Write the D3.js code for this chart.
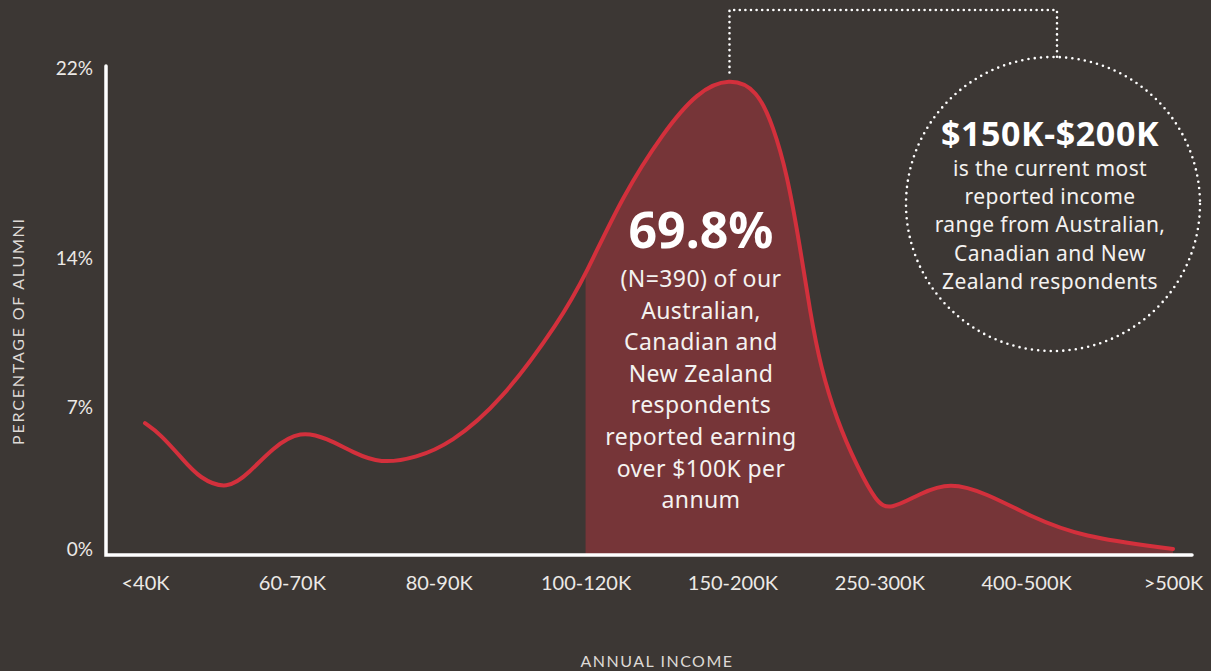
<!DOCTYPE html>
<html>
<head>
<meta charset="utf-8">
<script src="https://cdn.jsdelivr.net/npm/d3@7"></script>
<style>
  html, body { margin: 0; padding: 0; background: #3c3734; }
  #canvas { width: 1211px; height: 671px; }
</style>
</head>
<body>
<div id="canvas"></div>
<script>
// income bands along the x axis
const categories = ["<40K", "60-70K", "80-90K", "100-120K", "150-200K", "250-300K", "400-500K", ">500K"];
// y tick labels (percent)
const yTicks = [0, 7, 14, 22];
// smooth curve: position along the bands (0 = <40K) and percent of alumni
const curvePos = [0, 0.10, 0.26, 0.37, 0.56, 0.71, 0.87, 1.06, 1.24, 1.42, 1.60, 1.85, 2.08, 2.42, 2.83,
                  3.0, 3.25, 3.53, 3.76, 3.98, 4.17, 4.28, 4.37, 4.46, 4.53, 4.60, 4.71, 4.85, 4.98,
                  5.07, 5.28, 5.48, 5.73, 6.03, 6.37, 7.0];
const curveVal = [6.2, 5.7, 4.4, 3.5, 2.9, 3.75, 5.0, 5.85, 5.45, 4.75, 4.2, 4.5, 5.2, 7.2, 11.1,
                  13.2, 16.6, 19.3, 21.0, 21.6, 21.1, 19.5, 17.6, 14.5, 11.4, 8.9, 6.35, 4.05, 2.3,
                  1.9, 2.75, 3.3, 2.75, 1.6, 0.6, 0.0];
const shadeFrom = 3; // shaded from the 100-120K band onwards

const mainNote = ["(N=390) of our", "Australian,", "Canadian and", "New Zealand",
                  "respondents", "reported earning", "over $100K per", "annum"];
const circleNote = ["is the current most", "reported income", "range from Australian,",
                    "Canadian and New", "Zealand respondents"];

const W = 1211, H = 671;
const baseY = 555, axisX = 106;
const font = "'Noto Sans', 'Open Sans', sans-serif";
const tickFont = "Lato, 'Open Sans', sans-serif";

const svg = d3.select("#canvas").append("svg")
    .attr("width", W)
    .attr("height", H);

svg.append("rect")
    .attr("width", W)
    .attr("height", H)
    .attr("fill", "#3c3734");

const x = d3.scalePoint().domain(categories).range([145, 1173]);
const xPos = d3.scaleLinear().domain([0, categories.length - 1]).range([145, 1173]);
const y = d3.scaleLinear().domain(yTicks).range([549, 407, 258, 68]);

const pts = curvePos.map((p, i) => ({ p: p, v: curveVal[i] }));

// shaded area (same spline as the line, clipped at the 100-120K band)
const line = d3.line()
    .x(d => xPos(d.p))
    .y(d => y(d.v))
    .curve(d3.curveBasis);

const area = d3.area()
    .x(d => xPos(d.p))
    .y0(baseY)
    .y1(d => y(d.v))
    .curve(d3.curveBasis);

svg.append("clipPath")
    .attr("id", "shade")
    .append("rect")
    .attr("x", xPos(shadeFrom))
    .attr("y", 0)
    .attr("width", W)
    .attr("height", H);

svg.append("path")
    .datum(pts)
    .attr("d", area)
    .attr("clip-path", "url(#shade)")
    .attr("fill", "#763538");

// curve
svg.append("path")
    .datum(pts)
    .attr("d", line)
    .attr("fill", "none")
    .attr("stroke", "#d3303c")
    .attr("stroke-width", 4)
    .attr("stroke-linecap", "round");

// axes lines
svg.append("path")
    .attr("d", `M${axisX},${y(22) - 2}V${baseY}H1192`)
    .attr("fill", "none")
    .attr("stroke", "#ffffff")
    .attr("stroke-width", 3.5)
    .attr("stroke-linecap", "round");

// y axis labels
const yAxis = svg.append("g")
    .attr("transform", `translate(${axisX - 13},0)`)
    .call(d3.axisLeft(y).tickValues(yTicks).tickFormat(d => d + "%").tickSize(0).tickPadding(0));
yAxis.select(".domain").remove();
yAxis.selectAll("text")
    .attr("fill", "#ece9e6")
    .style("font-family", tickFont)
    .style("font-size", "19px");

// x axis labels
const xAxis = svg.append("g")
    .attr("transform", `translate(0,${baseY + 21})`)
    .call(d3.axisBottom(x).tickSize(0).tickPadding(0));
xAxis.select(".domain").remove();
xAxis.selectAll("text")
    .attr("fill", "#ece9e6")
    .style("font-family", tickFont)
    .style("font-size", "20px");

// axis titles
svg.append("text")
    .attr("transform", "translate(24,331) rotate(-90)")
    .attr("text-anchor", "middle")
    .attr("fill", "#dedad6")
    .style("font-family", tickFont)
    .style("font-size", "16px")
    .style("letter-spacing", "1.8px")
    .text("PERCENTAGE OF ALUMNI");

svg.append("text")
    .attr("x", 657)
    .attr("y", 667)
    .attr("text-anchor", "middle")
    .attr("fill", "#dedad6")
    .style("font-family", tickFont)
    .style("font-size", "16px")
    .style("letter-spacing", "1.5px")
    .text("ANNUAL INCOME");

// main note inside the shaded area
svg.append("text")
    .attr("x", 701)
    .attr("y", 248)
    .attr("text-anchor", "middle")
    .attr("fill", "#ffffff")
    .style("font-family", font)
    .style("font-weight", "bold")
    .style("font-size", "50px")
    .text("69.8%");

svg.append("g").selectAll("text")
    .data(mainNote)
    .join("text")
    .attr("x", 701)
    .attr("y", (d, i) => 287 + i * 31.6)
    .attr("text-anchor", "middle")
    .attr("fill", "#f4f2f0")
    .style("font-family", font)
    .style("font-size", "23px")
    .style("letter-spacing", "0.4px")
    .text(d => d);

// dotted bracket from peak to circle
const dots = {
    fill: "none",
    stroke: "#ffffff",
    "stroke-width": 2.6,
    "stroke-linecap": "round",
    "stroke-dasharray": "0 5.6"
};
const peak = pts.reduce((a, b) => (b.v > a.v ? b : a));
const cx = 1053, cy = 204, r = 147;

const bracket = svg.append("path")
    .attr("d", `M${xPos(peak.p)},${y(peak.v) - 5}V10H${cx + 4}V${cy - r}`);
const ring = svg.append("circle")
    .attr("cx", cx)
    .attr("cy", cy)
    .attr("r", r);
[bracket, ring].forEach(s => Object.entries(dots).forEach(([k, v]) => s.attr(k, v)));
ring.attr("stroke-dasharray", "0 6.3");

svg.append("text")
    .attr("x", 1050)
    .attr("y", 146)
    .attr("text-anchor", "middle")
    .attr("fill", "#ffffff")
    .style("font-family", font)
    .style("font-weight", "bold")
    .style("font-size", "34px")
    .style("letter-spacing", "0.6px")
    .text("$150K-$200K");

svg.append("g").selectAll("text")
    .data(circleNote)
    .join("text")
    .attr("x", 1050)
    .attr("y", (d, i) => 176 + i * 28.2)
    .attr("text-anchor", "middle")
    .attr("fill", "#f4f2f0")
    .style("font-family", font)
    .style("font-size", "21px")
    .style("letter-spacing", "0.4px")
    .text(d => d);
</script>
</body>
</html>
